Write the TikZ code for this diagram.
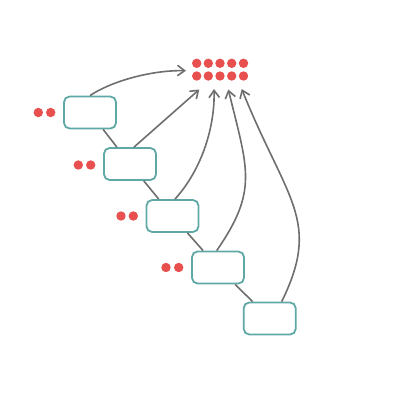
\documentclass[tikz,border=0pt]{standalone}
\usetikzlibrary{arrows.meta,calc}
\definecolor{boxc}{HTML}{5FA8A6}
\definecolor{dotc}{HTML}{E8504F}
\definecolor{linec}{HTML}{6E6E6E}
\begin{document}
\begin{tikzpicture}[x=0.25mm,y=-0.25mm,
  box/.style={draw=boxc,line width=0.45mm,rounded corners=1.4mm,fill=white,minimum width=13mm,minimum height=8mm,inner sep=0pt},
  dot/.style={circle,fill=dotc,minimum size=2.35mm,inner sep=0pt},
  link/.style={draw=linec,line width=0.4mm},
  arr/.style={link,-{Straight Barb[length=1.8mm,width=2.6mm]}}]
\useasboundingbox (0,0) rectangle (400,400);
% boxes
\node[box] (b1) at (90,112.5) {};
\node[box] (b2) at (130,164) {};
\node[box] (b3) at (172.5,216) {};
\node[box] (b4) at (218,267.5) {};
\node[box] (b5) at (269.7,318.5) {};
% links between boxes
\draw[link] (b1) -- (b2);
\draw[link] (b2) -- (b3);
\draw[link] (b3) -- (b4);
\draw[link] (b4) -- (b5);
% side dots
\node[dot] (s1a) at (38.3,112.5) {};
\node[dot] (s1b) at (50.7,112.5) {};
\node[dot] (s2a) at (78.3,165) {};
\node[dot] (s2b) at (90.7,165) {};
\node[dot] (s3a) at (121,216) {};
\node[dot] (s3b) at (133.3,216) {};
\node[dot] (s4a) at (166,267.5) {};
\node[dot] (s4b) at (178.7,267.5) {};
% grid dots
\foreach \i/\x in {1/196.7,2/208.3,3/220,4/231.7,5/243.5}{
  \node[dot] (g1\i) at (\x,63.3) {};
  \node[dot] (g2\i) at (\x,76) {};
}
% arrow targets
\coordinate (t1) at (186,70.7);
\coordinate (t2) at (199.3,89.5);
\coordinate (t3) at (214,89);
\coordinate (t4) at (228.3,89.5);
\coordinate (t5) at (241.7,89);
% arrows
\draw[arr] (b1.north) .. controls (110,82) and (150,70) .. (t1);
\draw[arr] ($(b2.north)+(4,0)$) -- (t2);
\draw[arr] ($(b3.north)+(2.5,0)$) .. controls (203,168) and (215,125) .. (t3);
\draw[arr] ($(b4.north)+(-1.3,0)$) .. controls (258.2,190.5) and (248,170) .. (t4);
\draw[arr] ($(b5.north)+(12,0)$) .. controls (321.7,220) and (286.9,201) .. (t5);
\end{tikzpicture}
\end{document}
